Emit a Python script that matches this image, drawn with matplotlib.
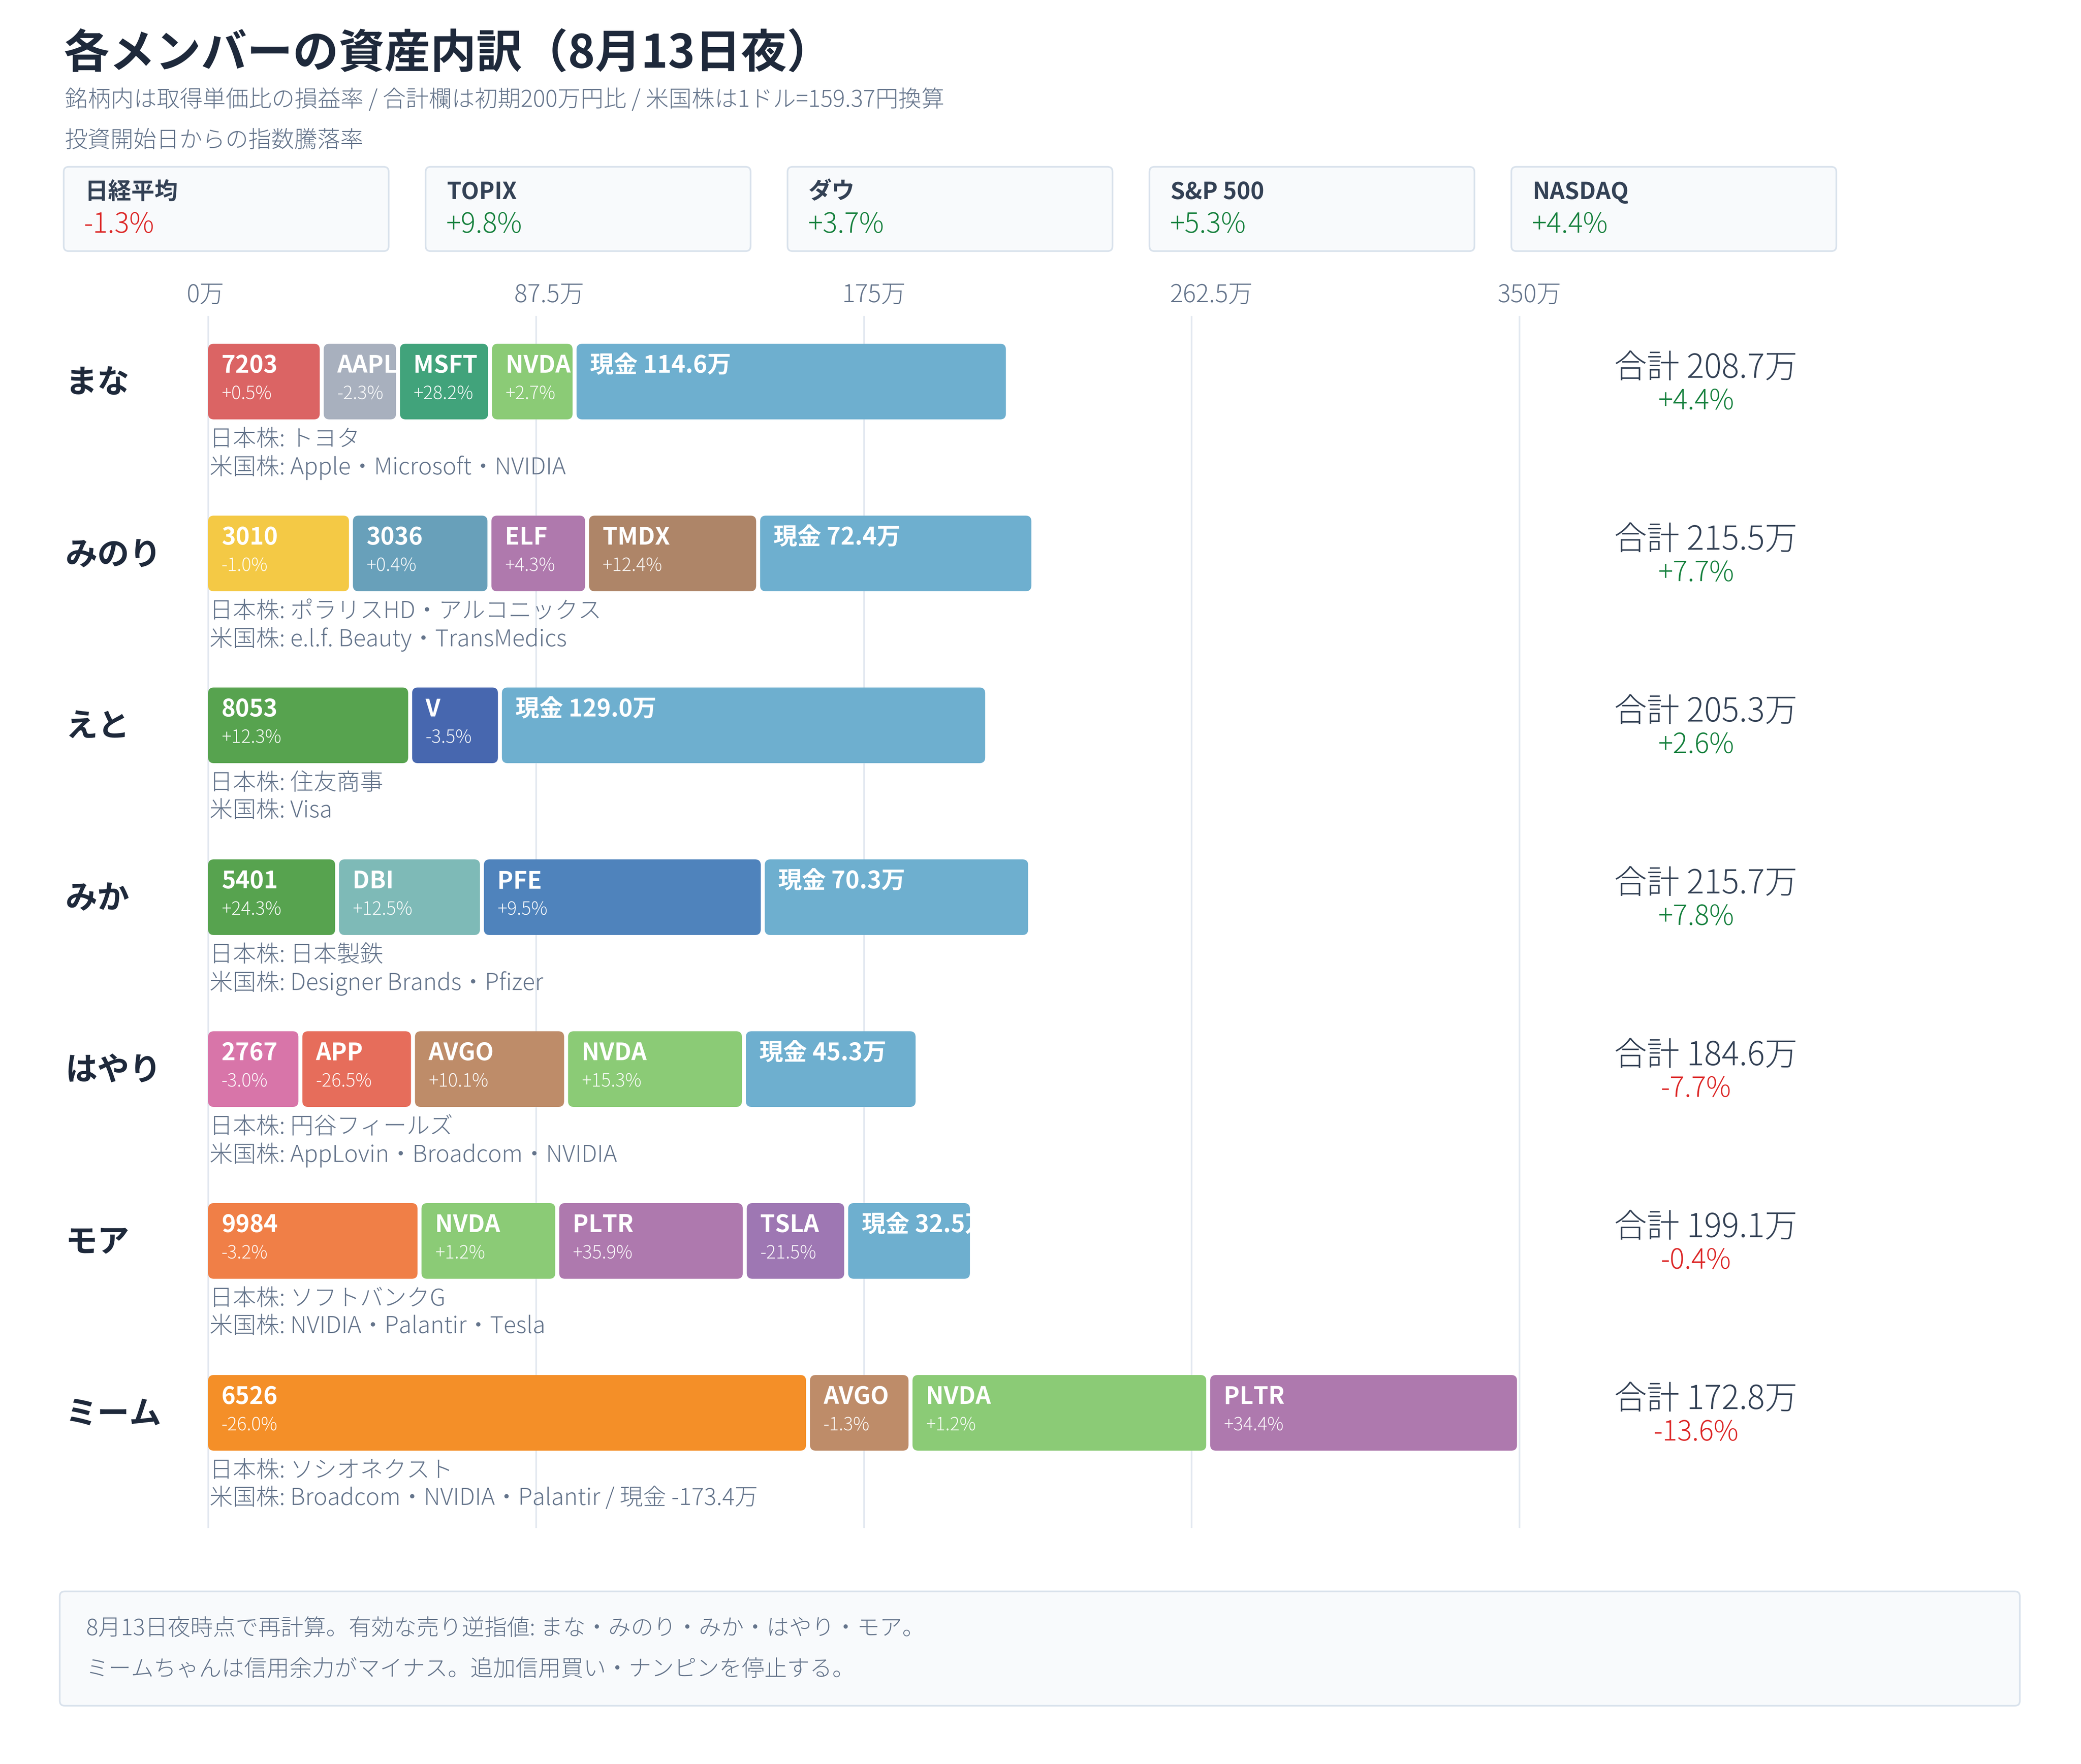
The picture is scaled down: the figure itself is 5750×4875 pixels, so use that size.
import matplotlib
matplotlib.use('Agg')
import matplotlib.pyplot as plt
from matplotlib.patches import FancyBboxPatch

plt.rcParams['font.family'] = ['Noto Sans CJK JP', 'DejaVu Sans']

# ---------------- data ----------------
title = '各メンバーの資産内訳（8月13日夜）'
subtitle1 = '銘柄内は取得単価比の損益率 / 合計欄は初期200万円比 / 米国株は1ドル=159.37円換算'
subtitle2 = '投資開始日からの指数騰落率'

index_names = ['日経平均', 'TOPIX', 'ダウ', 'S&P 500', 'NASDAQ']
index_changes = [-1.3, 9.8, 3.7, 5.3, 4.4]

axis_ticks = [0, 87.5, 175, 262.5, 350]

members = ['まな', 'みのり', 'えと', 'みか', 'はやり', 'モア', 'ミーム']
seg_codes = [
    ['7203', 'AAPL', 'MSFT', 'NVDA'],
    ['3010', '3036', 'ELF', 'TMDX'],
    ['8053', 'V'],
    ['5401', 'DBI', 'PFE'],
    ['2767', 'APP', 'AVGO', 'NVDA'],
    ['9984', 'NVDA', 'PLTR', 'TSLA'],
    ['6526', 'AVGO', 'NVDA', 'PLTR'],
]
seg_values = [  # 万円
    [29.8, 19.3, 23.5, 21.5],
    [37.6, 35.9, 25.0, 44.6],
    [53.4, 22.9],
    [33.9, 37.6, 73.9],
    [24.1, 29.0, 39.8, 46.4],
    [55.9, 35.7, 49.0, 26.0],
    [159.6, 26.3, 78.4, 81.9],
]
seg_pcts = [
    [0.5, -2.3, 28.2, 2.7],
    [-1.0, 0.4, 4.3, 12.4],
    [12.3, -3.5],
    [24.3, 12.5, 9.5],
    [-3.0, -26.5, 10.1, 15.3],
    [-3.2, 1.2, 35.9, -21.5],
    [-26.0, -1.3, 1.2, 34.4],
]
cash = [114.6, 72.4, 129.0, 70.3, 45.3, 32.5, -173.4]
totals = [208.7, 215.5, 205.3, 215.7, 184.6, 199.1, 172.8]
total_pcts = [4.4, 7.7, 2.6, 7.8, -7.7, -0.4, -13.6]
jp_stocks = ['トヨタ', 'ポラリスHD・アルコニックス', '住友商事', '日本製鉄',
             '円谷フィールズ', 'ソフトバンクG', 'ソシオネクスト']
us_stocks = ['Apple・Microsoft・NVIDIA', 'e.l.f. Beauty・TransMedics', 'Visa',
             'Designer Brands・Pfizer', 'AppLovin・Broadcom・NVIDIA',
             'NVIDIA・Palantir・Tesla', 'Broadcom・NVIDIA・Palantir']

footer_lines = ['8月13日夜時点で再計算。有効な売り逆指値: まな・みのり・みか・はやり・モア。',
                'ミームちゃんは信用余力がマイナス。追加信用買い・ナンピンを停止する。']

# ---------------- styles ----------------
seg_colors = {
    '7203': '#db6464', 'AAPL': '#a8b0be', 'MSFT': '#41a37b', 'NVDA': '#8bcb76',
    '3010': '#f4c945', '3036': '#68a0ba', 'ELF': '#af79ad', 'TMDX': '#ae8568',
    '8053': '#57a34f', 'V': '#4767af', '5401': '#57a34f', 'DBI': '#7ebab7',
    'PFE': '#4f83bc', '2767': '#d875a9', 'APP': '#e66d5b', 'AVGO': '#be8c69',
    '9984': '#f07f47', 'PLTR': '#ae79ae', 'TSLA': '#9e77b3', '6526': '#f48f28',
}
CASH_COLOR = '#6eafcf'
DARK = '#1e293b'
MID = '#334155'
GRAY = '#64748b'
GREEN = '#15803d'
RED = '#dc2626'
GRID = '#e2e8f0'
BOX_FC = '#f8fafc'
BOX_EC = '#d9e2ec'
LIGHT = 'light'

W, H, DPI = 5750, 4875, 250
fig = plt.figure(figsize=(W / DPI, H / DPI), dpi=DPI)
fig.patch.set_facecolor('white')


def fy(y):
    return 1 - y / H


def fbox(x0, y0, x1, y1, r=14):
    p = FancyBboxPatch((x0 / DPI, (H - y1) / DPI), (x1 - x0) / DPI, (y1 - y0) / DPI,
                       boxstyle=f'round,pad=0,rounding_size={r / DPI}',
                       transform=fig.dpi_scale_trans, fc=BOX_FC, ec=BOX_EC, lw=1.3)
    fig.patches.append(p)


# ---------------- header ----------------
fig.text(176 / W, fy(150), title, fontsize=36.5, fontweight='bold', color=DARK,
         ha='left', va='center')
fig.text(179 / W, fy(277), subtitle1, fontsize=18.3, color=GRAY, ha='left', va='center',
         fontweight=LIGHT)
fig.text(179 / W, fy(389), subtitle2, fontsize=18.3, color=GRAY, ha='left', va='center',
         fontweight=LIGHT)

for k, (nm, v) in enumerate(zip(index_names, index_changes)):
    x0 = 176 + k * 1000
    fbox(x0, 461, x0 + 898, 694)
    fig.text((x0 + 58) / W, fy(531), nm, fontsize=18.5, fontweight='bold', color=MID,
             ha='left', va='center')
    fig.text((x0 + 56) / W, fy(622), f'{v:+.1f}%', fontsize=22, fontweight=LIGHT,
             color=GREEN if v >= 0 else RED, ha='left', va='center')

# ---------------- main axes ----------------
X0, X1, Y0, Y1 = 575, 4198, 875, 4220
ROW0, PITCH, BAR_PX = 1054.5, 475, 209
ax = fig.add_axes([X0 / W, 1 - Y1 / H, (X1 - X0) / W, (Y1 - Y0) / H])
ax.set_xlim(axis_ticks[0], axis_ticks[-1])
ax.set_ylim((Y1 - ROW0) / PITCH, (Y0 - ROW0) / PITCH)
ax.axis('off')

for t in axis_ticks:
    ax.axvline(t, color=GRID, lw=1.3, zorder=0, clip_on=False)
    ax.annotate(f'{t:g}万', xy=(t, fy(816)), xycoords=('data', 'figure fraction'),
                xytext=(-60, 0), textcoords='offset pixels', ha='left', va='center',
                fontsize=19.5, fontweight=LIGHT, color=GRAY, annotation_clip=False)

h = BAR_PX / PITCH
px_x = (X1 - X0) / (axis_ticks[-1] - axis_ticks[0])   # pixels per 万
aspect = px_x / PITCH
GAP = 11 / px_x
RAD = 16 / px_x


def segment(i, left, width, color, label, sub=None):
    p = FancyBboxPatch((left, i - h / 2), width, h,
                       boxstyle=f'round,pad=0,rounding_size={RAD}',
                       mutation_aspect=aspect, fc=color, ec='none', zorder=2)
    ax.add_patch(p)
    t1 = ax.annotate(label, xy=(left, i - h / 2), xytext=(37, -61),
                     textcoords='offset pixels', ha='left', va='center',
                     fontsize=19, fontweight='bold', color='white', zorder=3,
                     annotation_clip=False)
    t1.set_clip_path(p)
    if sub is not None:
        t2 = ax.annotate(sub, xy=(left, i - h / 2), xytext=(37, -139),
                         textcoords='offset pixels', ha='left', va='center',
                         fontsize=14.5, fontweight=LIGHT, color='white', alpha=0.92,
                         zorder=3, annotation_clip=False)
        t2.set_clip_path(p)


for i, m in enumerate(members):
    left = 0.0
    for code, val, pct in zip(seg_codes[i], seg_values[i], seg_pcts[i]):
        segment(i, left, val, seg_colors[code], code, f'{pct:+.1f}%')
        left += val + GAP
    if cash[i] > 0:
        segment(i, left, cash[i], CASH_COLOR, f'現金 {cash[i]:.1f}万')

    # member name
    ax.annotate(m, xy=(181 / W, i + 0.01), xycoords=('figure fraction', 'data'),
                ha='left', va='center', fontsize=25.5, fontweight='bold', color=DARK,
                annotation_clip=False)
    # stock names
    us_line = f'米国株: {us_stocks[i]}'
    if cash[i] < 0:
        us_line += f' / 現金 {cash[i]:.1f}万'
    ax.annotate(f'日本株: {jp_stocks[i]}', xy=(0, i + h / 2), xytext=(4, -57),
                textcoords='offset pixels', ha='left', va='center', fontsize=18.5,
                fontweight=LIGHT, color=GRAY, annotation_clip=False)
    ax.annotate(us_line, xy=(0, i + h / 2), xytext=(4, -133),
                textcoords='offset pixels', ha='left', va='center', fontsize=18.5,
                fontweight=LIGHT, color=GRAY, annotation_clip=False)
    # totals
    ax.annotate(f'合計 {totals[i]:.1f}万', xy=(4713 / W, i - h / 2),
                xycoords=('figure fraction', 'data'), xytext=(0, -68),
                textcoords='offset pixels', ha='center', va='center', fontsize=26,
                fontweight=LIGHT, color=MID, annotation_clip=False)
    tp = total_pcts[i]
    ax.annotate(f'{tp:+.1f}%', xy=(4686 / W, i - h / 2),
                xycoords=('figure fraction', 'data'), xytext=(0, -160),
                textcoords='offset pixels', ha='center', va='center', fontsize=22,
                fontweight=LIGHT, color=GREEN if tp >= 0 else RED, annotation_clip=False)

# ---------------- footer ----------------
fbox(165, 4398, 5581, 4714)
fig.text(238 / W, fy(4502), footer_lines[0], fontsize=18, fontweight=LIGHT, color=GRAY,
         ha='left', va='center')
fig.text(238 / W, fy(4615), footer_lines[1], fontsize=18, fontweight=LIGHT, color=GRAY,
         ha='left', va='center')

fig.savefig('out.png', dpi=DPI, facecolor='white')
